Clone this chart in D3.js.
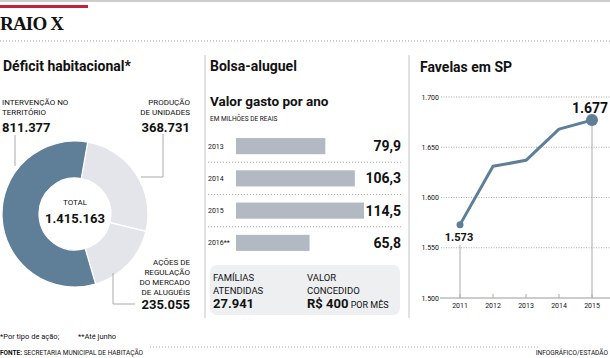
<!DOCTYPE html>
<html><head><meta charset="utf-8">
<script src="https://cdn.jsdelivr.net/npm/d3@7/dist/d3.min.js"></script>
<style>
body{margin:0;background:#fff;}
svg{display:block;font-family:Roboto,"Liberation Sans",sans-serif;}
</style></head>
<body>
<svg id="c" width="610" height="358"></svg>
<script>
// ---- data ----
const donutCategories = ["PRODUÇÃO DE UNIDADES", "AÇÕES DE REGULAÇÃO DO MERCADO DE ALUGUÉIS", "INTERVENÇÃO NO TERRITÓRIO"];
const donutValues = [368731, 235055, 811377];
const donutLabels = ["368.731", "235.055", "811.377"];
const donutTotal = "1.415.163";

const barYears = ["2013", "2014", "2015", "2016**"];
const barValues = [79.9, 106.3, 114.5, 65.8];
const barLabels = ["79,9", "106,3", "114,5", "65,8"];

const lineYears = ["2011", "2012", "2013", "2014", "2015"];
const lineValues = [1573, 1631, 1637, 1668, 1677];
const lineTicks = [1500, 1550, 1600, 1650, 1700];
const lineTickLabels = ["1.500", "1.550", "1.600", "1.650", "1.700"];

const svg = d3.select("#c");
const dark = "#5f7f98", light = "#e3e5eb", ink = "#111";

// ---- header ----
svg.append("line").attr("x1",0).attr("x2",610).attr("y1",1).attr("y2",1).attr("stroke","#bbb").attr("stroke-width",1.5);
svg.append("rect").attr("x",0).attr("y",5).attr("width",88).attr("height",3).attr("fill","#c4223a");
svg.append("text").attr("x",0).attr("y",30).text("RAIO X")
  .attr("font-family","'Liberation Serif',serif").attr("font-weight","bold").attr("font-size",19).attr("letter-spacing",-0.8).attr("fill",ink);
svg.append("line").attr("x1",0).attr("x2",610).attr("y1",41).attr("y2",41).attr("stroke","#999").attr("stroke-dasharray","1,2");

// panel separators
[205, 409].forEach(x=>svg.append("line").attr("x1",x).attr("x2",x).attr("y1",55).attr("y2",318).attr("stroke","#c4c4c4").attr("stroke-width",1));

function txt(x,y,s,size,weight,anchor,fill){
  return svg.append("text").attr("x",x).attr("y",y).text(s).attr("font-size",size)
    .attr("font-weight",weight||"normal").attr("text-anchor",anchor||"start").attr("fill",fill||ink);
}

// ---- donut ----
txt(3,71,"Déficit habitacional*",14,"bold");
const cx=75, cy=214, R=73, r0=36;
const startA = 10*Math.PI/180;
const pie = d3.pie().sort(null).startAngle(startA).endAngle(startA+2*Math.PI)(donutValues);
const arc = d3.arc().innerRadius(r0).outerRadius(R);
const colors = [light, light, dark];
svg.append("g").attr("transform",`translate(${cx},${cy})`).selectAll("path").data(pie).join("path")
  .attr("d",arc).attr("fill",(d,i)=>colors[i]).attr("stroke","#fff").attr("stroke-width",1.2);

txt(cx,205,"TOTAL",8,"normal","middle");
txt(cx,223,donutTotal,13,"bold","middle");

// leader lines
const lc="#aaa";
svg.append("path").attr("d","M15,135 L15,166").attr("stroke",lc).attr("fill","none");
svg.append("path").attr("d","M163,134 L163,177 L141,177").attr("stroke",lc).attr("fill","none");
svg.append("path").attr("d","M113,273 L113,304 L135,304").attr("stroke",lc).attr("fill","none");

// labels
txt(2,105,"INTERVENÇÃO NO",8);
txt(2,115,"TERRITÓRIO",8);
txt(2,132,donutLabels[2],13,"bold");
txt(190,105,"PRODUÇÃO",8,"normal","end");
txt(190,115,"DE UNIDADES",8,"normal","end");
txt(190,132,donutLabels[0],13,"bold","end");
["AÇÕES DE","REGULAÇÃO","DO MERCADO","DE ALUGUÉIS"].forEach((s,i)=>txt(190,265+i*10,s,8,"normal","end"));
txt(190,309,donutLabels[1],13,"bold","end");

// ---- bars ----
txt(210,71,"Bolsa-aluguel",14,"bold");
txt(210,106,"Valor gasto por ano",13.5,"bold");
txt(210,121,"EM MILHÕES DE REAIS",6.5);
const xb = d3.scaleLinear().domain([0,114.5]).range([236,364]);
const yb = d3.scaleBand().domain(barYears).range([130,259]).paddingInner(0.5).paddingOuter(0.25);
const gb = svg.append("g");
gb.selectAll("rect").data(barValues).join("rect")
  .attr("x",xb(0)).attr("y",(d,i)=>yb(barYears[i])).attr("width",d=>xb(d)-xb(0)).attr("height",yb.bandwidth()).attr("fill","#b3b9c3");
gb.selectAll("text.yr").data(barYears).join("text").attr("class","yr")
  .attr("x",208).attr("y",d=>yb(d)+yb.bandwidth()/2+2.5).text(d=>d).attr("font-size",7).attr("fill",ink);
gb.selectAll("text.val").data(barLabels).join("text").attr("class","val")
  .attr("x",401).attr("y",(d,i)=>yb(barYears[i])+yb.bandwidth()/2+5).attr("text-anchor","end")
  .text(d=>d).attr("font-size",14).attr("font-weight","bold").attr("fill",ink);
barYears.slice(0,-1).forEach(d=>{
  const y = yb(d)+yb.bandwidth()+(yb.step()-yb.bandwidth())/2;
  gb.append("line").attr("x1",208).attr("x2",401).attr("y1",y).attr("y2",y).attr("stroke","#aaa").attr("stroke-dasharray","1,2");
});
svg.append("rect").attr("x",210).attr("y",265).attr("width",190).attr("height",50).attr("rx",7).attr("fill","#edeff1");
txt(213,281,"FAMÍLIAS",9.5);
txt(213,294,"ATENDIDAS",9.5);
txt(213,308,"27.941",13,"bold");
txt(307,281,"VALOR",9.5);
txt(307,294,"CONCEDIDO",9.5);
const rt = svg.append("text").attr("x",307).attr("y",308).attr("fill",ink);
rt.append("tspan").text("R$ 400").attr("font-size",13).attr("font-weight","bold");
rt.append("tspan").text(" POR MÊS").attr("font-size",9);

// ---- line ----
txt(420,72,"Favelas em SP",14,"bold");
const xl = d3.scalePoint().domain(lineYears).range([460,592]);
const yl = d3.scaleLinear().domain([1500,1700]).range([298,97]);
const gl = svg.append("g");
lineTicks.forEach((t,i)=>{
  if(t===1500){
    gl.append("line").attr("x1",440).attr("x2",610).attr("y1",yl(t)).attr("y2",yl(t)).attr("stroke","#999");
  } else {
    gl.append("line").attr("x1",441).attr("x2",610).attr("y1",yl(t)).attr("y2",yl(t)).attr("stroke","#aaa").attr("stroke-dasharray","1,1.5");
  }
  gl.append("text").attr("x",439).attr("y",yl(t)+2.5).attr("text-anchor","end").text(lineTickLabels[i]).attr("font-size",7).attr("fill",ink);
});
lineYears.forEach((yr,i)=>{
  gl.append("text").attr("x",xl(yr)).attr("y",308).attr("text-anchor","middle").text(yr).attr("font-size",7).attr("fill",ink);
  gl.append("line").attr("x1",xl(yr)).attr("x2",xl(yr)).attr("y1",yl(1500)).attr("y2",yl(1500)-4).attr("stroke","#aaa");
});
// drop lines
gl.append("line").attr("x1",xl("2011")).attr("x2",xl("2011")).attr("y1",245).attr("y2",yl(1500)).attr("stroke","#aaa");
gl.append("line").attr("x1",xl("2015")).attr("x2",xl("2015")).attr("y1",yl(1677)).attr("y2",yl(1500)).attr("stroke","#aaa");
const line = d3.line().x((d,i)=>xl(lineYears[i])).y(d=>yl(d));
gl.append("path").attr("d",line(lineValues)).attr("fill","none").attr("stroke",dark).attr("stroke-width",3).attr("stroke-linejoin","round");
gl.append("circle").attr("cx",xl("2011")).attr("cy",yl(lineValues[0])).attr("r",3.5).attr("fill",dark);
gl.append("circle").attr("cx",xl("2015")).attr("cy",yl(lineValues[4])).attr("r",6).attr("fill",dark);
gl.append("text").attr("x",459).attr("y",241).attr("text-anchor","middle").text("1.573").attr("font-size",11).attr("font-weight","bold").attr("fill",ink);
gl.append("text").attr("x",590).attr("y",113).attr("text-anchor","middle").text("1.677").attr("font-size",14).attr("font-weight","bold").attr("fill",ink);

// ---- footer ----
txt(0,339,"*Por tipo de ação;",7.5);
txt(78,339,"**Até junho",7.5);
svg.append("line").attr("x1",150).attr("x2",540).attr("y1",347).attr("y2",347).attr("stroke","#aaa").attr("stroke-dasharray","1,2");
const f2 = svg.append("text").attr("x",0).attr("y",355).attr("font-size",6.5).attr("fill",ink);
f2.append("tspan").text("FONTE:").attr("font-weight","bold");
f2.append("tspan").text(" SECRETARIA MUNICIPAL DE HABITAÇÃO");
txt(608,355,"INFOGRÁFICO/ESTADÃO",6.5,"normal","end");
</script>
</body></html>
